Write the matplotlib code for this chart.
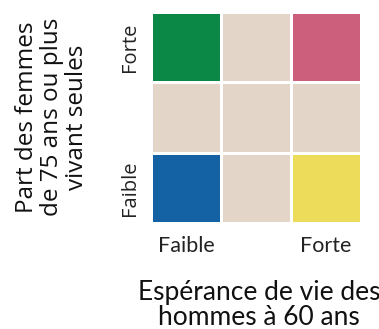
import numpy as np
import matplotlib.pyplot as plt
from matplotlib.colors import ListedColormap

# bivariate legend: rows = part des femmes (bottom -> top), cols = esperance de vie
X_LABELS = ["Faible", "", "Forte"]
Y_LABELS = ["Faible", "", "Forte"]
CLASS_COLORS = ["#E3D5C8", "#1461A3", "#0B8746", "#EDDB5A", "#CB5F7C"]
CELL_CLASS = [
    [1, 0, 3],  # Faible
    [0, 0, 0],
    [2, 0, 4],  # Forte
]

fig = plt.figure(figsize=(3.79, 3.29), dpi=100)
ax = fig.add_axes([151 / 379, 1 - 223 / 329, 210 / 379, 211 / 329])

grid = np.array(CELL_CLASS)
ax.pcolormesh(grid, cmap=ListedColormap(CLASS_COLORS), vmin=-0.5, vmax=len(CLASS_COLORS) - 0.5,
              edgecolors="white", linewidth=2)
ax.set_xlim(0, 3)
ax.set_ylim(0, 3)
for s in ax.spines.values():
    s.set_visible(False)

ax.set_xticks(np.arange(3) + 0.5)
ax.set_xticklabels(X_LABELS, fontsize=15.5, family="Lato", color="#222222")
ax.set_yticks(np.arange(3) + 0.5)
ax.set_yticklabels(Y_LABELS, fontsize=14.5, family="Open Sans", color="#222222",
                   rotation=90, va="center")
ax.tick_params(axis="x", length=0, pad=9)
ax.tick_params(axis="y", length=0, pad=8)

fig.text(0.684, 0.073, "Espérance de vie des\nhommes à 60 ans", ha="center", va="center",
         fontsize=19, family="Lato", color="#111111", linespacing=1.0)
fig.text(0.137, 0.644, "Part des femmes\nde 75 ans ou plus\nvivant seules", ha="center", va="center",
         rotation=90, fontsize=17.5, family="Open Sans", color="#111111", linespacing=1.05)

fig.savefig("out.png", dpi=100)
